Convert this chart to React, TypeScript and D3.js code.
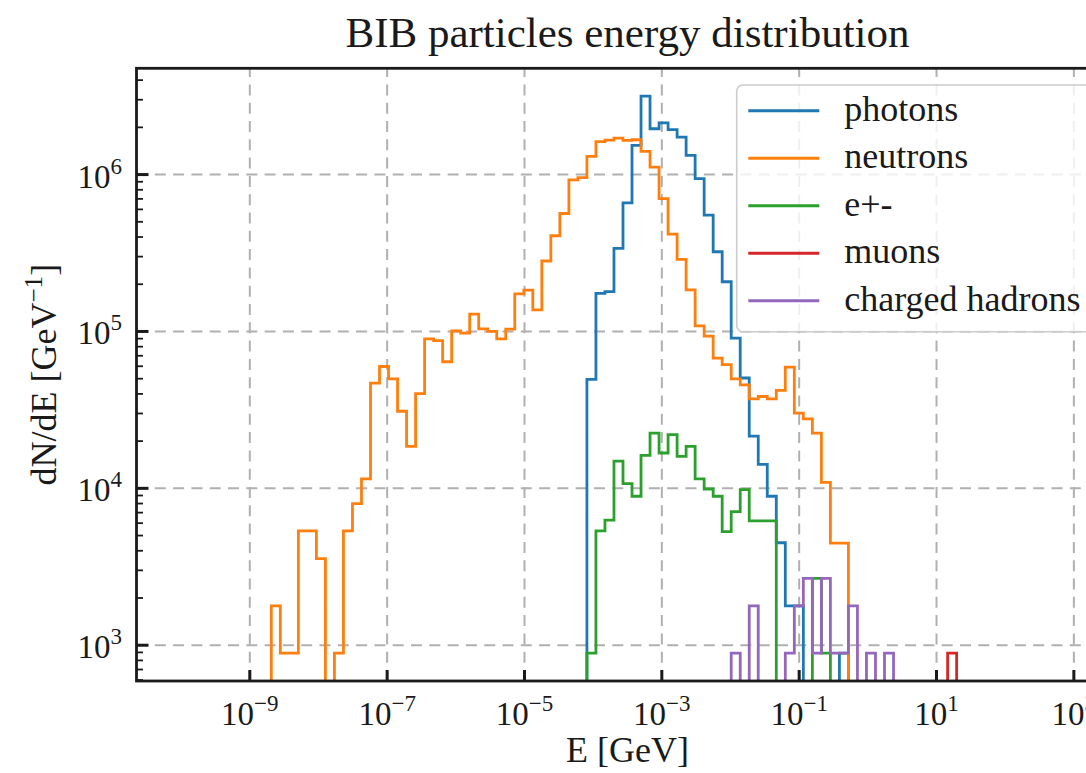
import React from "react";
import * as d3 from "d3";

// ---------------- data ----------------
// histogram bins: log-spaced edges from 1e-10 to 1e3 GeV, 99 bins
const binLogMin = -10;
const binLogMax = 3;
const binCount = 99;

// values per bin (dN/dE), starting at the given bin index
const photonsStart = 45;
const photons = [49500, 175000, 179500, 338800, 660700, 1535000, 3162000, 1959000, 2138000, 1932000, 1734000, 1327000, 941900, 550800, 322100, 207500, 90600, 50500, 21500, 14200, 8900, 4500, 1780, 1780, 0, 0, 0, 0, 890];

const neutronsStart = 10;
const neutrons = [1780, 890, 890, 5350, 5350, 3560, 0, 890, 5350, 8000, 11500, 46900, 59800, 49800, 31000, 18500, 40100, 89700, 87500, 64100, 100700, 97500, 128800, 103800, 100000, 89700, 103500, 173400, 183700, 137100, 281200, 407400, 564900, 924700, 957100, 1306000, 1622000, 1660000, 1710000, 1652000, 1667000, 1406000, 1117000, 703000, 417000, 288000, 184000, 108600, 93300, 67600, 61400, 49800, 45700, 37200, 38500, 37200, 42100, 59300, 30200, 27700, 22500, 10900, 4470, 4470];

const electronsStart = 45;
const electrons = [890, 5350, 6280, 14900, 10700, 8900, 16200, 22500, 16800, 22000, 16000, 18500, 11500, 9900, 8900, 5300, 7100, 9800, 6200, 6200, 6200, 0, 0, 0, 0, 2670, 890];

const muonsStart = 85;
const muons = [890];

const hadronsStart = 61;
const hadrons = [890, 0, 1780, 0, 0, 0, 890, 1780, 2670, 890, 2670, 890, 890, 1780, 0, 890, 0, 890];

const seriesNames = ["photons", "neutrons", "e+-", "muons", "charged hadrons"];
const seriesColors = ["#1f77b4", "#ff7f0e", "#2ca02c", "#d62728", "#9467bd"];
const seriesStarts = [photonsStart, neutronsStart, electronsStart, muonsStart, hadronsStart];
const seriesValues = [photons, neutrons, electrons, muons, hadrons];

const xTickExponents = [-9, -7, -5, -3, -1, 1, 3];
const yTickExponents = [3, 4, 5, 6];

const titleText = "BIB particles energy distribution";
const xLabelText = "E [GeV]";

// ---------------- layout ----------------
const W = 1086;
const H = 773;
const plotLeft = 136.5;
const plotRight = 1118.5;
const plotTop = 68.3;
const plotBottom = 681;
const FONT = "'Liberation Serif', 'DejaVu Serif', serif";

export default function App() {
  const binW = (binLogMax - binLogMin) / binCount;
  const xMargin = 0.05 * (binLogMax - binLogMin);
  const x = d3
    .scaleLog()
    .domain([Math.pow(10, binLogMin - xMargin), Math.pow(10, binLogMax + xMargin)])
    .range([plotLeft, plotRight]);

  const allVals = seriesValues.flat().filter((v) => v > 0);
  const lmin = Math.log10(d3.min(allVals) as number);
  const lmax = Math.log10(d3.max(allVals) as number);
  const ym = 0.05 * (lmax - lmin);
  const y = d3
    .scaleLog()
    .domain([Math.pow(10, lmin - ym), Math.pow(10, lmax + ym)])
    .range([plotBottom, plotTop]);

  const edge = (k: number) => x(Math.pow(10, binLogMin + k * binW));
  const yv = (v: number) => (v > 0 ? y(v) : plotBottom + 20);

  const stepPath = (start: number, vals: number[]) => {
    const p = d3.path();
    p.moveTo(edge(start), plotBottom + 20);
    vals.forEach((v, i) => {
      p.lineTo(edge(start + i), yv(v));
      p.lineTo(edge(start + i + 1), yv(v));
    });
    p.lineTo(edge(start + vals.length), plotBottom + 20);
    return p.toString();
  };

  const yMinor: number[] = [];
  for (let e = 2; e <= 6; e++) {
    for (let m = 2; m <= 9; m++) {
      const v = m * Math.pow(10, e);
      const [d0, d1] = y.domain();
      if (v > d0 && v < d1) yMinor.push(v);
    }
  }

  const gridStyle = { stroke: "#b0b0b0", strokeWidth: 2, strokeDasharray: "11 7.3" };
  const legendX = 736.7;
  const legendY = 85;
  const legendRowY0 = 110.7;
  const legendRowStep = 47.5;

  return (
    <svg
      width={W}
      height={H}
      viewBox={`0 0 ${W} ${H}`}
      style={{ position: "absolute", left: 0, top: 0, background: "#fff" }}
      fontFamily={FONT}
    >
      <defs>
        <clipPath id="plotClip">
          <rect x={plotLeft} y={plotTop} width={plotRight - plotLeft} height={plotBottom - plotTop} />
        </clipPath>
      </defs>
      <rect x={0} y={0} width={W} height={H} fill="#fff" />

      {/* grid */}
      <g>
        {xTickExponents.map((e) => (
          <line key={"gx" + e} x1={x(Math.pow(10, e))} x2={x(Math.pow(10, e))} y1={plotBottom} y2={plotTop} {...gridStyle} />
        ))}
        {yTickExponents.map((e) => (
          <line key={"gy" + e} x1={plotLeft} x2={plotRight} y1={y(Math.pow(10, e))} y2={y(Math.pow(10, e))} {...gridStyle} />
        ))}
      </g>

      {/* histograms */}
      <g clipPath="url(#plotClip)">
        {seriesValues.map((vals, i) => (
          <path
            key={seriesNames[i]}
            d={stepPath(seriesStarts[i], vals)}
            fill="none"
            stroke={seriesColors[i]}
            strokeWidth={2.8}
            strokeLinejoin="miter"
          />
        ))}
      </g>

      {/* spines */}
      <rect
        x={plotLeft}
        y={plotTop}
        width={plotRight - plotLeft}
        height={plotBottom - plotTop}
        fill="none"
        stroke="#1a1a1a"
        strokeWidth={2.8}
      />

      {/* ticks */}
      <g stroke="#1a1a1a">
        {xTickExponents.map((e) => (
          <line key={"tx" + e} x1={x(Math.pow(10, e))} x2={x(Math.pow(10, e))} y1={plotBottom} y2={plotBottom - 11} strokeWidth={3} />
        ))}
        {yTickExponents.map((e) => (
          <line key={"ty" + e} x1={plotLeft} x2={plotLeft + 12} y1={y(Math.pow(10, e))} y2={y(Math.pow(10, e))} strokeWidth={3} />
        ))}
        {yMinor.map((v) => (
          <line key={"tm" + v} x1={plotLeft} x2={plotLeft + 6.5} y1={y(v)} y2={y(v)} strokeWidth={1.8} />
        ))}
      </g>

      {/* tick labels */}
      <g fill="#1a1a1a" fontSize={33}>
        {xTickExponents.map((e) => (
          <text key={"lx" + e} x={x(Math.pow(10, e))} y={725} textAnchor="middle">
            <tspan>10</tspan>
            <tspan fontSize={23} dy={-14}>{e < 0 ? "\u2212" + Math.abs(e) : String(e)}</tspan>
          </text>
        ))}
        {yTickExponents.map((e) => (
          <text key={"ly" + e} x={122} y={y(Math.pow(10, e)) + 13} textAnchor="end">
            <tspan>10</tspan>
            <tspan fontSize={23} dy={-14}>{String(e)}</tspan>
          </text>
        ))}
      </g>

      {/* title and axis labels */}
      <text x={(plotLeft + plotRight) / 2} y={47} textAnchor="middle" fontSize={43} fill="#1a1a1a">
        {titleText}
      </text>
      <text x={(plotLeft + plotRight) / 2} y={762} textAnchor="middle" fontSize={36} fill="#1a1a1a">
        {xLabelText}
      </text>
      <text
        transform={`translate(56, ${(plotTop + plotBottom) / 2}) rotate(-90)`}
        textAnchor="middle"
        fontSize={36}
        fill="#1a1a1a"
      >
        <tspan>dN/dE [GeV</tspan>
        <tspan fontSize={25} dy={-14}>{"\u22121"}</tspan>
        <tspan dy={14}>]</tspan>
      </text>

      {/* legend */}
      <g>
        <rect
          x={legendX}
          y={legendY}
          width={plotRight - 16.5 - legendX}
          height={331.7 - legendY}
          rx={6}
          fill="#fff"
          fillOpacity={0.8}
          stroke="#cccccc"
          strokeWidth={1.6}
        />
        {seriesNames.map((n, i) => (
          <g key={"lg" + n}>
            <line
              x1={748.3}
              x2={819.3}
              y1={legendRowY0 + i * legendRowStep}
              y2={legendRowY0 + i * legendRowStep}
              stroke={seriesColors[i]}
              strokeWidth={3}
            />
            <text x={844.3} y={legendRowY0 + i * legendRowStep + 10} fontSize={36} fill="#1a1a1a">
              {n}
            </text>
          </g>
        ))}
      </g>
    </svg>
  );
}
